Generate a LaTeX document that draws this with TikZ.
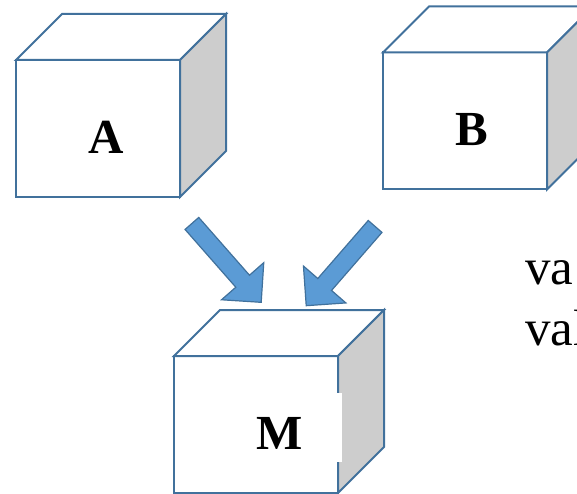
\documentclass[tikz,border=0pt]{standalone}
\usepackage{fontspec}
\setmainfont{Liberation Serif}
\usetikzlibrary{shapes.arrows}

\definecolor{cubeedge}{RGB}{65,113,156}
\definecolor{cubeside}{RGB}{205,205,205}
\definecolor{arrowfill}{RGB}{91,155,213}

\tikzset{
  front/.style={draw=cubeedge, fill=white, line width=2pt, minimum width=164pt,
    minimum height=137pt, inner sep=0pt, outer sep=0pt},
  face/.style={draw=cubeedge, line width=2pt, line join=miter},
  cubelabel/.style={font=\bfseries\fontsize{49}{49}\selectfont, inner sep=0pt},
  blockarrow/.style={single arrow, draw=cubeedge, fill=arrowfill, line width=1.2pt,
    inner xsep=0pt, inner ysep=8.5pt, minimum height=105pt,
    single arrow head extend=19pt, anchor=tail},
  note/.style={font=\fontsize{51}{61}\selectfont, inner sep=0pt, anchor=base west}
}

% top and side of a cube
\newcommand{\cubeback}[1]{%
  \draw[face, fill=white] (#1.north west) -- ++(46,-46) -- ++(164,0) -- (#1.north east) -- cycle;
  \draw[face, fill=cubeside] (#1.north east) -- ++(46,-46) -- ++(0,137) -- (#1.south east) -- cycle;
}

\begin{document}
\begin{tikzpicture}[x=1pt, y=-1pt]
    \path[use as bounding box, clip] (0,0) rectangle (577,494);

    % Define nodes
    \node[front] (A) at (98,128.5) {};
    \cubeback{A}
    \node[cubelabel] (Alabel) at (106,137) {A};

    \node[front] (B) at (465,121) {};
    \cubeback{B}
    \node[cubelabel] (Blabel) at (472,130) {B};

    \node[front] (M) at (256,424.5) {};
    \cubeback{M}
    \fill[white] (335.5,393) rectangle (342,462);
    \node[cubelabel] (Mlabel) at (280,433) {M};

    % Connect nodes
    \node[blockarrow, rotate=-48.7] (arrowA) at (191.5,223) {};
    \node[blockarrow, rotate=-131] (arrowB) at (375.5,226) {};

    % side text
    \node[note] (noteA) at (525,284) {va};
    \node[note] (noteB) at (525,345) {val};
\end{tikzpicture}
\end{document}
